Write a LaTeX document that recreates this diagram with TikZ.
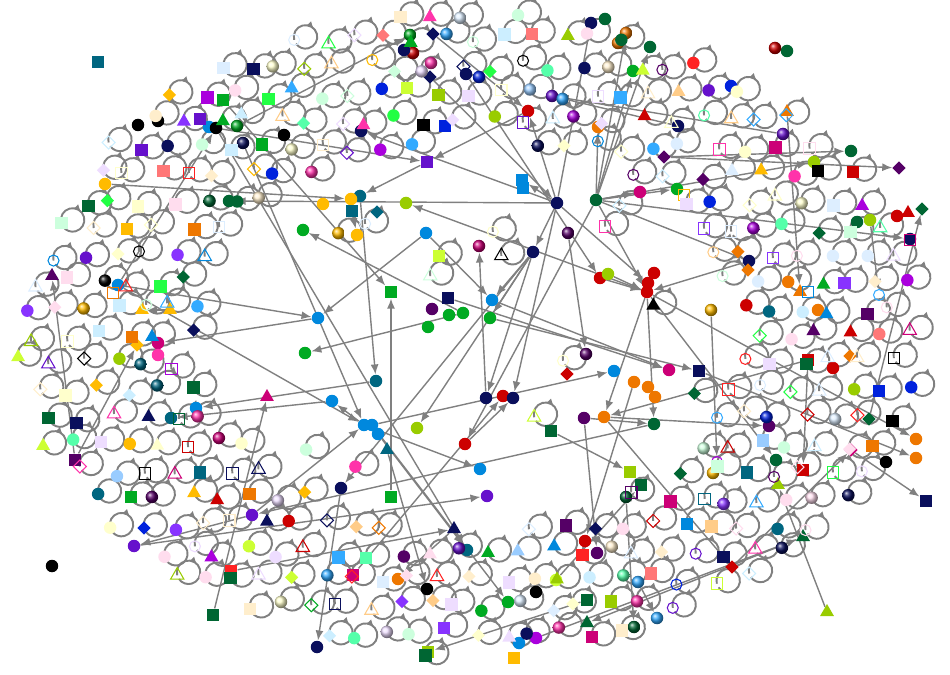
\documentclass[tikz,border=0pt]{standalone}
\usetikzlibrary{arrows.meta,shapes.geometric,decorations.markings}
\pgfdeclarelayer{bg}
\pgfsetlayers{bg,main}

\definecolor{nv}{HTML}{0A0F5C}
\definecolor{dg}{HTML}{006633}
\definecolor{rd}{HTML}{CC0000}
\definecolor{bu}{HTML}{0088DD}
\definecolor{gn}{HTML}{00AA22}
\definecolor{yg}{HTML}{99CC00}
\definecolor{yl}{HTML}{FFBB00}
\definecolor{tl}{HTML}{006680}
\definecolor{og}{HTML}{EE7700}
\definecolor{pu}{HTML}{6611CC}
\definecolor{dp}{HTML}{550066}
\definecolor{mg}{HTML}{CC0077}
\definecolor{pk}{HTML}{FF33AA}
\definecolor{sk}{HTML}{33AAFF}
\definecolor{lm}{HTML}{CCFF33}
\definecolor{bg}{HTML}{22FF44}
\definecolor{vi}{HTML}{AA00DD}
\definecolor{vl}{HTML}{8833FF}
\definecolor{bk}{HTML}{000000}
\definecolor{lb}{HTML}{99CCFF}
\definecolor{sa}{HTML}{FF7777}
\definecolor{tn}{HTML}{FFCC88}
\definecolor{mn}{HTML}{55FFAA}
\definecolor{bl2}{HTML}{0022DD}
\definecolor{rb}{HTML}{FF2222}
\definecolor{p1}{HTML}{FFEECC}
\definecolor{p2}{HTML}{DDEEFF}
\definecolor{p3}{HTML}{CCFFDD}
\definecolor{p4}{HTML}{FFDDEE}
\definecolor{p5}{HTML}{EEDDFF}
\definecolor{p6}{HTML}{FFFFCC}
\definecolor{p7}{HTML}{CCEEFF}

\tikzset{
  fcirc/.style={circle, fill=#1, inner sep=0pt, minimum size=2.5mm},
  ocirc/.style={circle, draw=#1, line width=0.6pt, inner sep=0pt, minimum size=2.2mm},
  fsq/.style={rectangle, fill=#1, inner sep=0pt, minimum size=2.5mm},
  osq/.style={rectangle, draw=#1, line width=0.6pt, inner sep=0pt, minimum size=2.3mm},
  ftri/.style={regular polygon, regular polygon sides=3, fill=#1, inner sep=0pt, minimum size=3.2mm},
  otri/.style={regular polygon, regular polygon sides=3, draw=#1, line width=0.6pt, inner sep=0pt, minimum size=3.1mm},
  fdia/.style={diamond, fill=#1, inner sep=0pt, minimum size=2.7mm},
  odia/.style={diamond, draw=#1, line width=0.6pt, inner sep=0pt, minimum size=2.7mm},
  fball/.style={circle, ball color=#1, inner sep=0pt, minimum size=2.5mm},
  selfloop/.style={draw=gray, line width=1.1pt, postaction={decorate},
    decoration={markings, mark=at position 0.44 with {\arrow{Latex[length=1.4mm,width=1.4mm]}}}},
  arrow/.style={draw=gray, line width=0.8pt, -{Latex[length=2mm,width=1.6mm]}}
}

\pgfmathdeclarerandomlist{pal}{{nv}{dg}{rd}{bu}{gn}{yg}{yl}{tl}{og}{pu}{dp}{mg}{pk}{sk}{lm}{bg}{vi}{vl}{bk}{lb}{sa}{tn}{mn}{bl2}{rb}{p1}{p2}{p3}{p4}{p5}{p6}{p7}{p1}{p2}{p3}{p4}{p5}{p6}{p7}}
\pgfmathdeclarerandomlist{kinds}{{fcirc}{ocirc}{fsq}{osq}{ftri}{otri}{fdia}{odia}{fball}{fcirc}{fsq}}
\newcount\nloops

\begin{document}
\begin{tikzpicture}[x=0.02cm, y=-0.02cm]
  \useasboundingbox (0,0) rectangle (950,675);

  % connected nodes
  \foreach \n/\x/\y/\s/\c in {
    v1/557/203/fcirc/nv, v2/596/200/fcirc/dg, v3/533/252/fcirc/nv, v4/647/292/fcirc/rd, v4b/648/283/fcirc/rd,
    v5/492/300/fcirc/bu, v6/463/313/fcirc/gn, v6b/449/315/fcirc/gn, v6c/490/318/fcirc/gn, v6d/428/327/fcirc/gn,
    v6e/432/309/fcirc/dp, v7/448/298/fsq/nv, v8/391/292/fsq/gn, v9/426/233/fcirc/bu, v10/406/203/fcirc/yg,
    v11/360/196/fcirc/tl, v12/351/199/fcirc/yl, v13/323/204/fcirc/yl, v14/352/211/fsq/tl, v14b/377/212/fdia/tl,
    v15/357/235/fcirc/yl, v16/303/230/fcirc/gn, v17/318/318/fcirc/bu, v18/305/353/fcirc/gn, v19/229/201/fcirc/dg,
    v20/376/381/fcirc/tl, v21/364/425/fcirc/bu, v21b/372/425/fcirc/bu, v21c/378/434/fcirc/bu, v22/332/401/fcirc/bu,
    v23/417/428/fcirc/yg, v24/391/497/fsq/gn, v25/387/450/ftri/tl, v26/341/488/fcirc/nv, v27/317/647/fcirc/nv,
    v28/465/444/fcirc/rd, v29/486/398/fcirc/nv, v29b/503/396/fcirc/rd, v29c/513/398/fcirc/nv, v30/480/469/fcirc/bu,
    v31/487/496/fcirc/pu, v32/467/550/fcirc/tl, v33/584/418/fcirc/dp, v33b/604/417/fcirc/og, v34/634/382/fcirc/og,
    v34b/648/387/fcirc/og, v34c/655/397/fcirc/og, v35/699/371/fsq/nv, v36/614/371/fcirc/bu, v37/567/374/fdia/rd,
    v38/586/354/fball/dp, v39/669/370/fcirc/mg, v40/654/424/fcirc/dg, v41/551/431/fsq/dg, v42/479/246/fball/mg,
    v43/568/233/fball/dp, v44/600/278/fcirc/rd, v44b/608/274/fcirc/yg, v44c/654/273/fcirc/rd, v45/749/261/fcirc/nv,
    v46/748/270/fdia/og, v47/814/162/fcirc/yg, v48/851/151/fcirc/dg, v49/870/220/fcirc/yg, v49b/857/222/fcirc/dg,
    v50/897/216/fcirc/rd, v50b/908/213/ftri/rd, v51/910/239/fcirc/nv, v51b/910/240/osq/mg, v52/922/209/fdia/dg,
    v53/664/157/fdia/dp, v54/678/126/fcirc/nv, v55/783/134/fball/pu, v56/598/127/fcirc/og, v57/552/96/fball/pu,
    v58/528/111/fcirc/rd, v59/445/126/fsq/bl2, v60/427/162/fsq/pu, v61/361/131/fcirc/nv, v62/522/180/fsq/bu,
    v62b/523/188/fsq/bu, v63/284/135/fcirc/bk, v64/223/100/fsq/gn, v65/209/127/fcirc/bu, v66/216/128/fcirc/bk,
    v67/237/126/fball/gn, v68/243/143/fball/nv, v69/410/35/fball/gn, v70/413/53/fball/rd, v70b/404/50/fcirc/nv,
    v71/433/34/fdia/nv, v72/431/63/fball/pk, v73/430/77/fdia/nv, v74/466/74/fcirc/nv, v74b/479/77/fball/bl2,
    v75/633/71/fcirc/gn, v76/605/19/fcirc/dg, v76b/591/23/fcirc/nv, v77/787/51/fcirc/dg, v77b/775/48/fball/rd,
    v78/731/86/fcirc/bl2, v79/711/310/fball/yl, v80/717/462/ocirc/vi, v80b/713/473/fball/yl, v81/808/360/fsq/rd,
    v82/803/470/fsq/rd, v83/833/368/fcirc/rd, v84/850/356/fdia/og, v85/869/419/fdia/dg, v86/916/439/fcirc/og,
    v86b/916/458/fcirc/og, v87/926/501/fsq/nv, v88/851/450/fdia/mg, v89/732/567/fdia/rd, v90/630/472/fsq/yg,
    v91/641/485/fsq/dg, v92/626/497/fball/dg, v93/634/627/fball/dg, v94/585/541/fcirc/rd, v95/597/553/fcirc/dp,
    v96/778/485/ftri/yg, v97/827/612/ftri/yg, v98/803/537/ftri/dg, v99/638/582/fball/sk, v100/657/618/fball/sk,
    v101/769/426/fcirc/dp, v102/818/310/fcirc/og, v103/800/292/ftri/og, v103b/808/292/osq/bu, v104/879/295/ocirc/sk,
    v110/105/184/fcirc/yl, v111/118/285/fcirc/bu, v112/113/293/osq/og, v113/170/310/ftri/yl, v114/142/310/ftri/yl,
    v115/158/343/fcirc/mg, v115b/158/355/fcirc/pk, v116/137/345/fdia/yl, v117/196/408/fcirc/bu, v118/171/418/fcirc/tl,
    v119/267/397/ftri/mg, v120/52/276/ftri/dp, v121/75/460/fsq/dp, v122/134/546/fcirc/pu, v123/231/571/fsq/rb,
    v124/454/529/ftri/nv, v125/353/575/fsq/mg, v126/398/579/fcirc/og, v127/213/615/fsq/dg, v128/427/589/fcirc/bk,
    v129/508/602/fcirc/gn, v130/536/592/fcirc/bk, v131/428/652/fsq/yg, v132/519/643/fcirc/bu, v132b/514/658/fsq/yl,
    v133/536/638/fcirc/vi, v134/556/580/fcirc/lm, v135/587/600/fsq/dg, v136/252/515/fcirc/pu, v140/626/33/fball/og,
    v141/618/43/fball/og, v142/650/47/fcirc/dg, v143/640/192/fcirc/mg, v144/677/189/fcirc/gn, v144b/684/195/osq/yl,
    v145/899/168/fdia/dp, v146/587/623/ftri/dg, v147/787/112/ftri/og, v150/98/62/fsq/tl, v151/200/119/fsq/pu,
    v152/52/566/fcirc/bk, v153/776/460/fcirc/dg, v154/886/462/fcirc/bk, v155/158/121/fcirc/bk, v156/138/125/fcirc/bk}
  {
    \edef\tmp{\noexpand\node[\s=\c] (\n) at (\x,\y) {};}\tmp
  }

  % nodes that carry a self loop, on a jittered grid inside the ellipse band
  \pgfmathsetseed{4217}
  \global\nloops=0
  \foreach \gy in {0,...,24}{
    \foreach \gx in {0,...,31}{
      \pgfmathsetmacro\px{8+30*\gx+15*mod(\gy,2)+14*(rnd-0.5)}
      \pgfmathsetmacro\py{12+27*\gy+12*(rnd-0.5)}
      \pgfmathsetmacro\rr{sqrt(((\px-466)/452)^2+((\py-335)/322)^2)}
      \pgfmathtruncatemacro\keep{(\rr<=1)*(((\rr>=0.6)+(rnd<0.05))>0)}
      \ifnum\keep=1
        \global\advance\nloops by 1
        \pgfmathrandomitem\col{pal}
        \pgfmathrandomitem\shp{kinds}
        \edef\tmp{\noexpand\node[\shp=\col] (r\the\nloops) at (\px,\py) {};}\tmp
      \fi
    }
  }
  \edef\nl{\the\nloops}

  \begin{pgfonlayer}{bg}
  % self loops
  \foreach \i in {1,...,\nl}
    \draw[selfloop] (r\i.center) arc[start angle=195, delta angle=-340, radius=0.235cm];

  % links
  \foreach \a/\b in {
    v1/v19, v1/v61, v1/v3, v1/v58, v1/v76b, v1/v29c, v1/v4b, v60/v11, v2/v56, v2/v75,
    v2/v140, v2/v142, v2/v47, v2/v51, v2/v45, v2/v143, v2/v144, v2/v4, v53/v48, v53/v145,
    v54/v57, v44/v4, v44b/v4, v45/v4, v3/v5, v3/v23, v3/v29, v9/v17, v9/v5, v4/v10,
    v110/v12, v14/v15, v6/v16, v64/v8, v66/v32, v67/v69, v29/v42, v24/v8, v26/v27, v21/v22,
    v21/v30, v21c/v32, v21b/v129, v20/v117, v22/v118, v6/v18, v17/v115, v111/v17, v113/v114, v121/v120,
    v127/v119, v123/v124, v124/v126, v136/v122, v122/v31, v135/v131, v21b/v36, v7/v39, v33b/v101, v33b/v89,
    v89/v88, v88/v87, v81/v82, v81/v33b, v41/v90, v79/v80, v99/v100, v92/v93, v97/v96, v98/v146,
    v49/v104, v147/v103, v43/v38, v28/v29c, v35/v86b, v133/v98, v134/v91, v55/v57, v68/v21, v65/v60,
    v121/v116, v111/v66, v25/v128, v85/v52, v33/v40, v33/v95, v34/v94, v4/v33b, v4/v40, v4/v153,
    v4/v86, v6c/v35, v5/v39, v11/v20, v111/v21, v40/v136, v136/v21, v58/v60, v71/v58, v73/v1,
    v74/v44, v3/v6c, v2/v28, v3/v26, v125/v29b, v1/v62}
  {
    \draw[arrow] (\a) -- (\b);
  }
  \end{pgfonlayer}
\end{tikzpicture}
\end{document}
